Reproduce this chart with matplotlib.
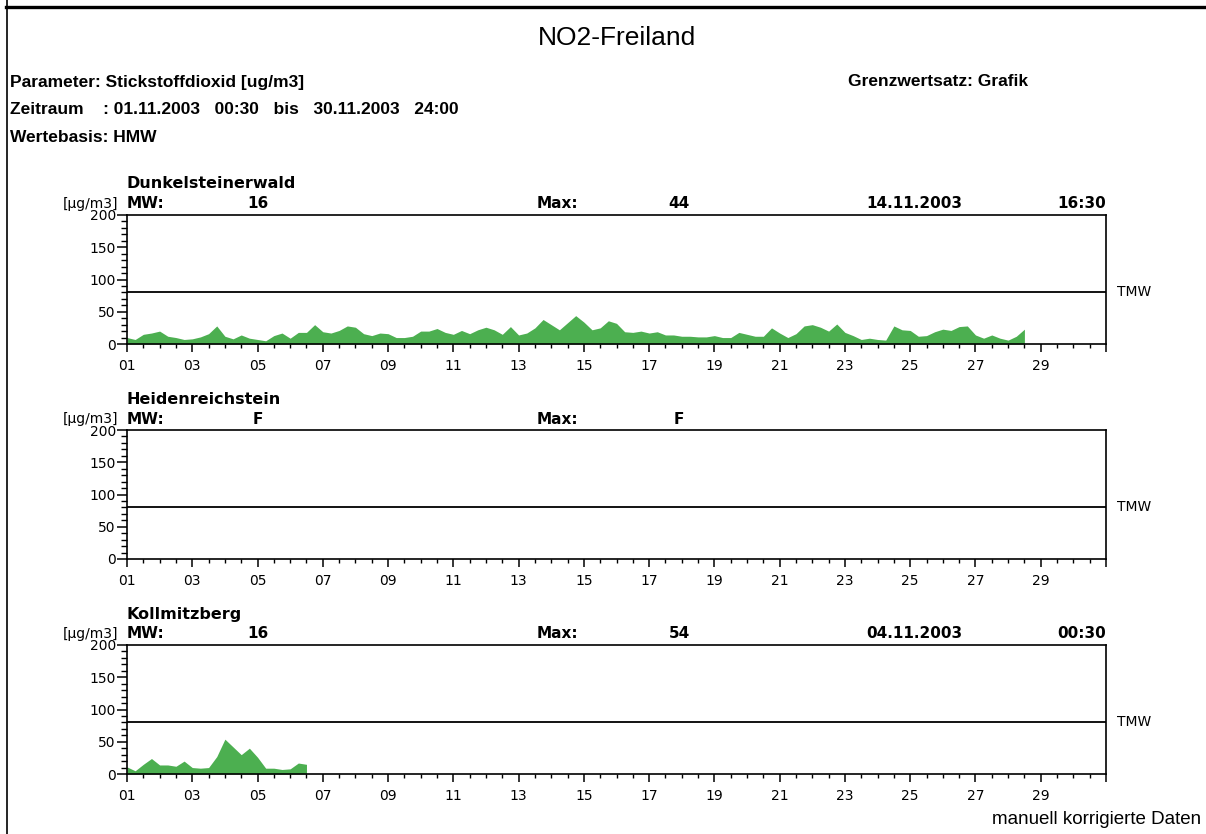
import numpy as np
import matplotlib.pyplot as plt
from matplotlib.lines import Line2D
from matplotlib.ticker import MultipleLocator

# NO2 half-hour means, read every 6 hours, starting 01.11.2003
step = 0.25
dunkel_no2 = [10, 7, 15, 17, 20, 12, 10, 7,
              8, 11, 16, 28, 12, 8, 14, 9,
              7, 5, 13, 17, 9, 18, 18, 30,
              19, 17, 21, 28, 26, 16, 13, 17,
              16, 10, 10, 12, 20, 20, 24, 18,
              15, 21, 16, 22, 26, 22, 15, 27,
              14, 17, 25, 38, 30, 22, 33, 44,
              34, 22, 25, 36, 32, 19, 18, 20,
              17, 19, 14, 14, 12, 12, 11, 11,
              13, 10, 10, 18, 15, 12, 12, 25,
              17, 10, 16, 28, 30, 26, 20, 31,
              18, 13, 7, 9, 7, 6, 28, 22,
              21, 12, 13, 19, 23, 21, 27, 28,
              14, 9, 14, 9, 6, 12, 23]
heiden_no2 = []  # station failed the whole month
kollm_no2 = [11, 5, 15, 24, 14, 14, 12, 20,
             10, 9, 10, 27, 54, 42, 30, 40,
             26, 9, 9, 7, 8, 17, 15]

stations = ["Dunkelsteinerwald", "Heidenreichstein", "Kollmitzberg"]
series = [dunkel_no2, heiden_no2, kollm_no2]
mw_text = ["16", "F", "16"]
max_text = ["44", "F", "54"]
max_date = ["14.11.2003", "", "04.11.2003"]
max_time = ["16:30", "", "00:30"]
tmw = 80

day_ticks = list(range(1, 32, 2))
day_labels = [f"{d:02d}" if d < 31 else "" for d in day_ticks]

head_font = "Liberation Sans"

W, H = 1206, 834
fig = plt.figure(figsize=(W / 100, H / 100), dpi=100)


def fx(x):
    return x / W


def fy(y):
    return 1 - y / H


# page frame
fig.add_artist(Line2D([fx(6), 1], [fy(7), fy(7)], color="black", lw=2.4))
fig.add_artist(Line2D([fx(6.5), fx(6.5)], [0, 1], color="black", lw=1.2))

fig.text(fx(617), fy(38), "NO2-Freiland", ha="center", va="center",
         fontsize=19, family=head_font)
fig.text(fx(10), fy(82), "Parameter: Stickstoffdioxid [ug/m3]", va="center",
         fontsize=12.5, family=head_font, weight="bold")
fig.text(fx(10), fy(110), "Zeitraum    : 01.11.2003   00:30   bis   30.11.2003   24:00",
         va="center", fontsize=12.5, family=head_font, weight="bold")
fig.text(fx(10), fy(137), "Wertebasis: HMW", va="center",
         fontsize=12.5, family=head_font, weight="bold")
fig.text(fx(848), fy(82), "Grenzwertsatz: Grafik", va="center",
         fontsize=12.5, family=head_font, weight="bold")
fig.text(fx(1201), fy(820), "manuell korrigierte Daten", ha="right", va="center",
         fontsize=13.5, family=head_font)

left, right = 127, 1106
for i in range(3):
    top = 215 + 215 * i
    bottom = top + 129
    ax = fig.add_axes([fx(left), fy(bottom), (right - left) / W, (bottom - top) / H])

    vals = series[i]
    if vals:
        t = 1 + step * np.arange(len(vals))
        ax.fill_between(t, 0, vals, color="#4caf50", lw=0)
    ax.axhline(tmw, color="black", lw=1.3)

    ax.set_xlim(1, 31)
    ax.set_ylim(0, 200)
    ax.set_xticks(day_ticks)
    ax.set_xticklabels(day_labels)
    ax.xaxis.set_minor_locator(MultipleLocator(0.5))
    ax.set_yticks([0, 50, 100, 150, 200])
    ax.yaxis.set_minor_locator(MultipleLocator(10))
    ax.tick_params(axis="x", which="major", length=6, width=1.1, pad=5,
                   labelsize=10, colors="black")
    ax.tick_params(axis="x", which="minor", length=3, width=1.0)
    ax.tick_params(axis="y", which="major", length=7, width=1.1, pad=1, labelsize=10)
    ax.tick_params(axis="y", which="minor", length=4, width=1.0)
    for s in ax.spines.values():
        s.set_linewidth(1.2)

    # station header above each panel
    fig.text(fx(127), fy(top - 31), stations[i], va="center", fontsize=11.5,
             weight="bold")
    fig.text(fx(118), fy(top - 11), "[µg/m3]", ha="right", va="center", fontsize=10)
    fig.text(fx(127), fy(top - 11), "MW:", va="center", fontsize=11, weight="bold")
    fig.text(fx(258), fy(top - 11), mw_text[i], ha="center", va="center",
             fontsize=11, weight="bold")
    fig.text(fx(537), fy(top - 11), "Max:", va="center", fontsize=11, weight="bold")
    fig.text(fx(679), fy(top - 11), max_text[i], ha="center", va="center",
             fontsize=11, weight="bold")
    fig.text(fx(866), fy(top - 11), max_date[i], va="center", fontsize=11,
             weight="bold")
    fig.text(fx(1106), fy(top - 11), max_time[i], ha="right", va="center",
             fontsize=11, weight="bold")
    fig.text(fx(1117), fy(top + 77), "TMW", va="center", fontsize=10)

fig.savefig("out.png", dpi=100)
